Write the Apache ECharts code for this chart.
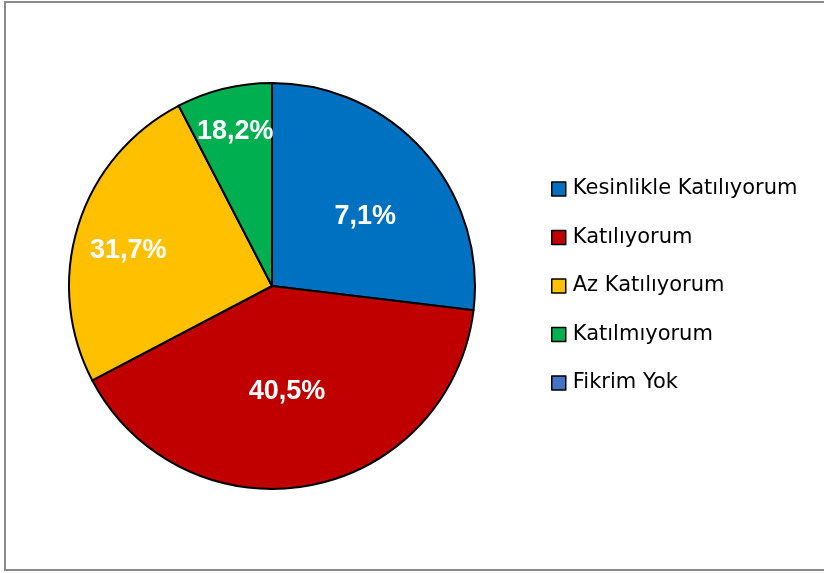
<!DOCTYPE html>
<html>
<head>
<meta charset="utf-8">
<script src="https://cdn.jsdelivr.net/npm/echarts@6/dist/echarts.min.js"></script>
<style>
  html, body { margin:0; padding:0; background:#fff; overflow:hidden; }
  #chart { position:absolute; left:0; top:0; width:824px; height:573px; }
  #frame { position:absolute; left:4px; top:1px; width:900px; height:566px; border:2px solid #8a8a8a; pointer-events:none; }
</style>
</head>
<body>
<div id="chart"></div>
<div id="frame"></div>
<script>
// Data
const categories = ['Kesinlikle Katılıyorum', 'Katılıyorum', 'Az Katılıyorum', 'Katılmıyorum', 'Fikrim Yok'];
const sliceValues = [26.9, 40.4, 25.1, 7.6, 0];
const labelTexts = ['7,1%', '40,5%', '31,7%', '18,2%', ''];

// Styles (kept separate from data)
const colors = ['#0070C0', '#C00000', '#FFC000', '#00B050', '#4472C4'];
const labelOffsets = [[15, 0], [-4, 3], [-44, -4], [-12, -53], [0, 0]];

const data = categories.map((name, i) => ({
  name: name,
  value: sliceValues[i],
  itemStyle: { color: colors[i] },
  label: { show: labelTexts[i] !== '', offset: labelOffsets[i] }
}));

const chart = echarts.init(document.getElementById('chart'), null, { renderer: 'canvas' });
chart.setOption({
  animation: false,
  color: colors,
  legend: {
    orient: 'vertical',
    left: 551,
    top: 177,
    padding: 0,
    icon: 'rect',
    itemWidth: 14,
    itemHeight: 14,
    itemGap: 24.5,
    selectedMode: false,
    itemStyle: { borderColor: '#000', borderWidth: 1.5 },
    textStyle: { fontFamily: 'DejaVu Sans', fontSize: 21, color: '#000', lineHeight: 24, padding: [0, 0, 0, 2] },
    data: categories
  },
  series: [{
    type: 'pie',
    center: [272, 286],
    radius: 203,
    startAngle: 90,
    clockwise: true,
    avoidLabelOverlap: false,
    silent: true,
    itemStyle: { borderColor: '#000', borderWidth: 2 },
    label: {
      position: 'inside',
      formatter: p => labelTexts[p.dataIndex],
      color: '#fff',
      fontFamily: 'Liberation Sans',
      fontWeight: 'bold',
      fontSize: 27
    },
    labelLine: { show: false },
    emphasis: { disabled: true },
    data: data
  }]
});
</script>
</body>
</html>
